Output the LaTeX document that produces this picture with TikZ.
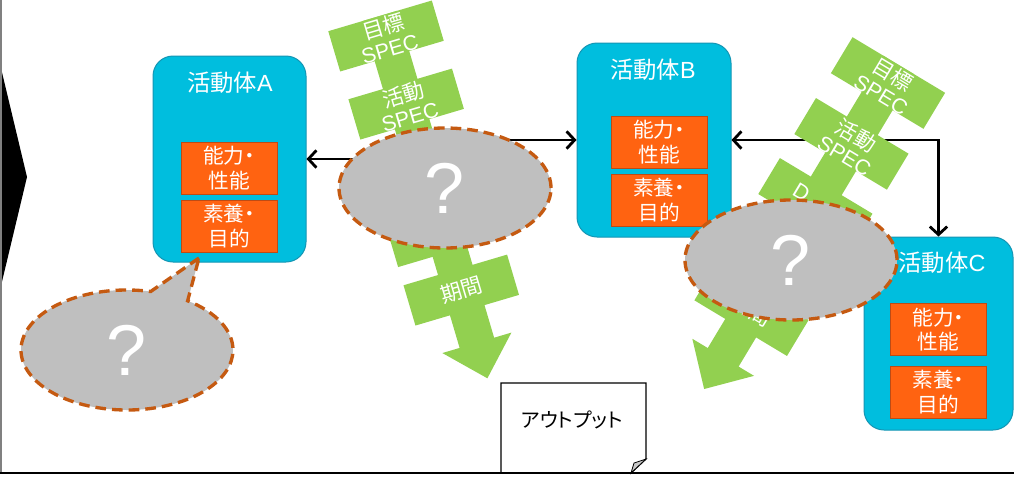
\documentclass[tikz,border=0pt]{standalone}
\usepackage{fontspec}
\setmainfont{Noto Sans CJK JP}
\newfontfamily\lat{Liberation Sans}
\newfontfamily\jpk{Noto Sans CJK JP}[RawFeature=+palt]
\usetikzlibrary{shapes.geometric,shapes.callouts,arrows.meta}
\definecolor{boxcyan}{RGB}{0,190,222}
\definecolor{boxcyanline}{RGB}{20,150,180}
\definecolor{boxorange}{RGB}{255,99,17}
\definecolor{boxorangeline}{RGB}{190,75,20}
\definecolor{flowgreen}{RGB}{146,208,80}
\definecolor{qgray}{RGB}{191,191,191}
\definecolor{qline}{RGB}{197,90,17}
\definecolor{foldgray}{RGB}{200,200,200}
\tikzset{
  actor/.style={draw=boxcyanline, line width=0.75pt, fill=boxcyan, rounded corners=15pt, inner sep=0pt},
  acttitle/.style={text=white, inner sep=0pt, font=\fontsize{17.5}{17.5}\selectfont},
  trait/.style={draw=boxorangeline, line width=0.75pt, fill=boxorange, text=white, align=center, inner sep=0pt,
    minimum width=72pt, minimum height=39pt, font=\jpk\fontsize{15.5}{18.5}\selectfont},
  flowtext/.style={text=white, align=center, inner sep=0pt, font=\fontsize{16}{17}\selectfont},
  qbubble/.style={fill=qgray, draw=qline, line width=2.5pt, dash pattern=on 8pt off 4.5pt,
    minimum width=159pt, minimum height=90pt, inner sep=0pt, text=white, font=\lat\fontsize{54}{54}\selectfont},
  link/.style={line width=2.1pt, -{Straight Barb[length=6pt,width=13pt]}},
  twolink/.style={line width=2.1pt, {Straight Barb[length=6pt,width=13pt]}-{Straight Barb[length=6pt,width=13pt]}},
}
\newcommand{\greenflow}[4]{%
\begin{scope}[shift={(#2,#3)},rotate=#1]
  \fill[flowgreen] (-18,-21) rectangle (18,321);
  \foreach \yy in {0,71,141,204,265} \fill[flowgreen] (-54,\yy-21) rectangle (54,\yy+21);
  \fill[flowgreen] (-36,320) -- (36,320) -- (0,357) -- cycle;
  \node[flowtext,rotate=#1] (#4a) at (0,1) {目標\\{\lat SPEC}};
  \node[flowtext,rotate=#1] (#4b) at (0,72) {活動\\{\lat SPEC}};
  \node[flowtext,rotate=#1] (#4c) at (-18,138) {\lat D};
  \node[flowtext,rotate=#1] (#4e) at (0,265) {期間};
\end{scope}}
\begin{document}
\begin{tikzpicture}[x=0.75pt,y=-0.75pt]
\useasboundingbox (0,0) rectangle (1014,476);
\fill[white] (0,0) rectangle (1014,476);
% frame
\fill[black] (0,64) -- (27,177) -- (0,290) -- cycle;
\draw[gray, line width=1.5pt] (1,0) -- (1,473);

% activity bodies
\node[actor, minimum width=114.75pt, minimum height=154.5pt] (A) at (229.5,159) {};
\node[acttitle] (At) at (230,83) {活動体{\lat A}};
\node[trait] (A1) at (229,168) {能力・\\性能};
\node[trait] (A2) at (229,226) {素養・\\目的};

\node[actor, minimum width=115.5pt, minimum height=145.5pt] (B) at (654,140) {};
\node[acttitle] (Bt) at (653,70) {活動体{\lat B}};
\node[trait] (B1) at (659,142) {能力・\\性能};
\node[trait] (B2) at (659,200) {素養・\\目的};

\node[actor, minimum width=111.75pt, minimum height=144.75pt] (C) at (938.5,333.5) {};
\node[acttitle] (Ct) at (942,263) {活動体{\lat C}};
\node[trait] (C1) at (938.5,329.5) {能力・\\性能};
\node[trait] (C2) at (938.5,392) {素養・\\目的};

% ellipse centres
\coordinate (Mc) at (445,188);
\coordinate (Rc) at (791,260);

% connectors
\draw[link] (A.east -| Mc) -- (A.east);
\draw[link] (B.west -| Mc) -- (B.west);
\draw[twolink] (B.east) -| (C.north);

% green flows
\greenflow{16.5}{386}{36}{m}
\greenflow{-31}{888}{83}{r}

% question bubbles
\node[qbubble, ellipse] (M) at (Mc) {?};
\node[qbubble, ellipse] (R) at (Rc) {?};
\node[qbubble, ellipse callout, callout absolute pointer={(199,258)}, callout pointer arc=22] (Q) at (127,350) {?};

% output document
\draw[line width=0.9pt, fill=white] (501,383) -- (646,383) -- (646,459) -- (631,473) -- (501,473) -- cycle;
\draw[line width=0.6pt, fill=foldgray] (646,459) -- (634,463) -- (631,473) -- cycle;
\node[font=\jpk\fontsize{15}{15}\selectfont, inner sep=0pt] (out) at (572,420) {アウトプット};

\draw[black, line width=1.5pt] (0,472.5) -- (1014,472.5);
\end{tikzpicture}
\end{document}
